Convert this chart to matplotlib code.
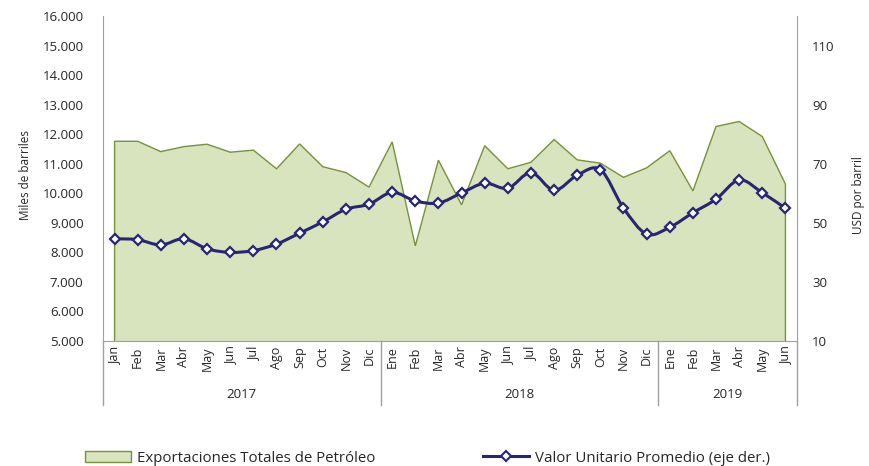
import numpy as np
import matplotlib
matplotlib.use("Agg")
import matplotlib.pyplot as plt
from matplotlib.path import Path
from matplotlib.patches import PathPatch, Patch, Polygon
from matplotlib.lines import Line2D
import matplotlib.transforms as mtransforms

plt.rcParams['font.family'] = ['Open Sans', 'DejaVu Sans']

months = ["Jan", "Feb", "Mar", "Abr", "May", "Jun", "Jul", "Ago", "Sep", "Oct", "Nov", "Dic",
          "Ene", "Feb", "Mar", "Abr", "May", "Jun", "Jul", "Ago", "Sep", "Oct", "Nov", "Dic",
          "Ene", "Feb", "Mar", "Abr", "May", "Jun"]
years = ["2017", "2018", "2019"]
year_counts = [12, 12, 6]

exportaciones = [11760, 11760, 11410, 11580, 11660, 11390, 11460, 10830, 11670, 10900, 10700, 10210,
                 11740, 8220, 11120, 9610, 11610, 10830, 11050, 11820, 11130, 11020, 10540, 10860,
                 11440, 10080, 12260, 12430, 11920, 10310]
valor_unitario = [44.6, 44.3, 42.5, 44.6, 41.2, 40.0, 40.6, 42.8, 46.5, 50.3, 54.6, 56.3,
                  60.3, 57.4, 56.7, 60.1, 63.4, 61.7, 67.0, 61.0, 66.1, 68.0, 55.0, 46.2,
                  48.5, 53.4, 58.0, 64.5, 60.2, 54.9]

left_ticks = [5000, 6000, 7000, 8000, 9000, 10000, 11000, 12000, 13000, 14000, 15000, 16000]
left_labels = ["5.000", "6.000", "7.000", "8.000", "9.000", "10.000", "11.000", "12.000",
               "13.000", "14.000", "15.000", "16.000"]
right_ticks = [10, 30, 50, 70, 90, 110]

FILL = "#D7E4BD"
EDGE = "#76923C"
NAVY = "#262673"
SPINE = "#A0A0A0"
TXT = "#262626"

fig = plt.figure(figsize=(8.7, 4.66), dpi=100)
ax = fig.add_axes([103/870, 1-341/466, 694/870, 325/466])
ax2 = ax.twinx()

n = len(months)
x = np.arange(n)

# area
verts = [(x[0], 5000)] + list(zip(x, exportaciones)) + [(x[-1], 5000)]
poly = Polygon(verts, closed=False, facecolor=FILL, edgecolor=EDGE, linewidth=1.0, zorder=1)
ax.add_patch(poly)

ax.set_xlim(-0.5, n - 0.5)
ax.set_ylim(5000, 16000)
ax.set_yticks(left_ticks)
ax.set_yticklabels(left_labels)
ax.set_xticks(x)
ax.set_xticklabels(months, rotation=90, fontsize=9, color=TXT)
ax.tick_params(axis='x', length=0, pad=4)
ax.tick_params(axis='y', length=0, pad=14, labelsize=9.5, labelcolor=TXT)
for s in ["top"]:
    ax.spines[s].set_visible(False)
    ax2.spines[s].set_visible(False)
for s in ["left", "right", "bottom"]:
    ax.spines[s].set_color(SPINE)
    ax2.spines[s].set_color(SPINE)
ax.spines["right"].set_visible(False)
ax2.spines["left"].set_visible(False)
ax2.spines["bottom"].set_visible(False)

# smooth line (Catmull-Rom -> Bezier) through the data points
pts = np.column_stack([x, valor_unitario]).astype(float)
codes = [Path.MOVETO]
vp = [tuple(pts[0])]
for i in range(n - 1):
    p0 = pts[i - 1] if i > 0 else pts[i]
    p1 = pts[i]
    p2 = pts[i + 1]
    p3 = pts[i + 2] if i + 2 < n else pts[i + 1]
    c1 = p1 + (p2 - p0) / 6.0
    c2 = p2 - (p3 - p1) / 6.0
    vp += [tuple(c1), tuple(c2), tuple(p2)]
    codes += [Path.CURVE4] * 3
ax2.add_patch(PathPatch(Path(vp, codes), facecolor='none', edgecolor=NAVY, linewidth=2.2, zorder=3))
ax2.plot(x, valor_unitario, linestyle='none', marker='D', markersize=5.5,
         markerfacecolor='white', markeredgecolor=NAVY, markeredgewidth=1.6, zorder=4)

ax2.set_ylim(10, 120)
ax2.set_yticks(right_ticks)
ax2.tick_params(axis='y', length=0, pad=11, labelsize=9.5, labelcolor=TXT)

ax.set_ylabel("Miles de barriles", fontsize=8.5, color=TXT)
ax.yaxis.set_label_coords(-0.102, 0.51)
ax2.set_ylabel("USD por barril", fontsize=8.5, color=TXT, rotation=90)
ax2.yaxis.set_label_coords(1.079, 0.45)

# multi-level category axis separators and year labels
trans = mtransforms.blended_transform_factory(ax.transData, ax.transAxes)
bounds = [-0.5]
c = -0.5
for k in year_counts:
    c += k
    bounds.append(c)
for b in bounds:
    ax.add_line(Line2D([b, b], [0, -0.197], transform=trans, color=SPINE, linewidth=1.0, clip_on=False))
start = 0
for yr, k in zip(years, year_counts):
    ax.text(start + (k - 1) / 2.0, -0.166, yr, transform=trans, ha='center', va='center',
            fontsize=9.5, color=TXT)
    start += k

h1 = Patch(facecolor=FILL, edgecolor=EDGE, linewidth=1.0)
h2 = Line2D([0], [0], color=NAVY, linewidth=2.2, marker='D', markersize=5,
            markerfacecolor='white', markeredgecolor=NAVY, markeredgewidth=1.5)
common = dict(loc='center left', frameon=False, fontsize=10.8, handlelength=3.05, handleheight=0.75,
              handletextpad=0.4, borderpad=0, borderaxespad=0, labelcolor=TXT)
fig.legend([h1], ["Exportaciones Totales de Petróleo"], bbox_to_anchor=(85/870, 1-458/466), **common)
fig.legend([h2], ["Valor Unitario Promedio (eje der.)"], bbox_to_anchor=(483/870, 1-458/466), **common)

fig.savefig("out.png", dpi=100)
